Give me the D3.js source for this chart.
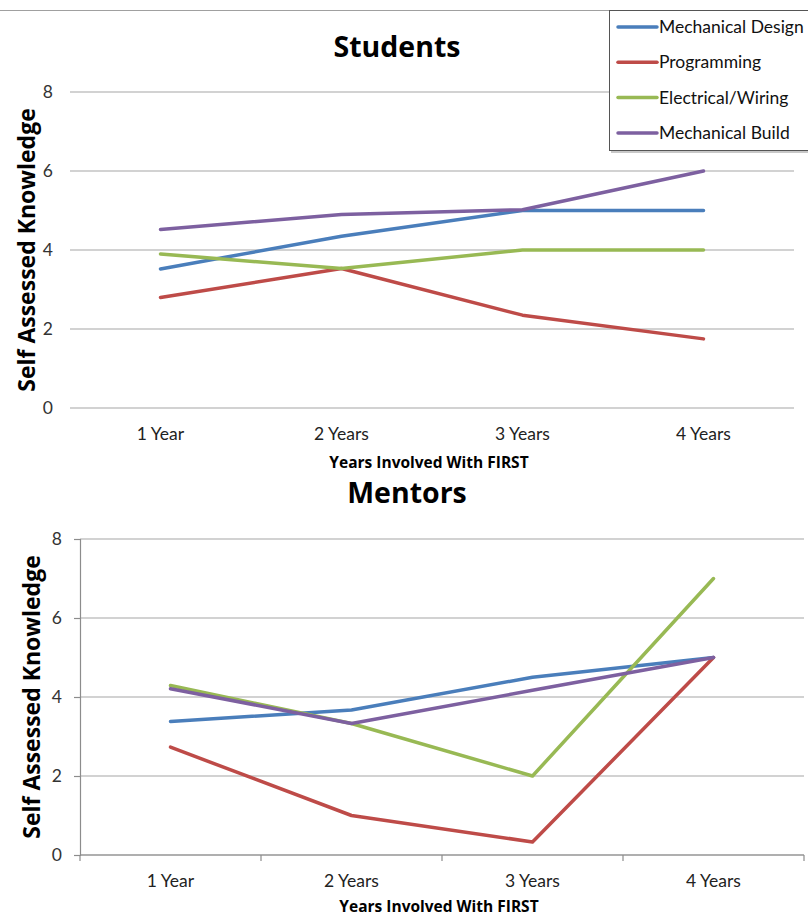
<!DOCTYPE html>
<html>
<head>
<meta charset="utf-8">
<script src="https://cdn.jsdelivr.net/npm/d3@7"></script>
<style>
  html, body { margin: 0; padding: 0; background: #fff; }
  svg { display: block; }
  text { font-family: Lato, "Open Sans", sans-serif; fill: #000; }
  text.bold { font-family: "Open Sans", Lato, sans-serif; font-weight: bold; }
</style>
</head>
<body>
<svg id="chart" width="808" height="918"></svg>
<script>
// ---- data ----
const categories = ["1 Year", "2 Years", "3 Years", "4 Years"];
const seriesNames = ["Mechanical Design", "Programming", "Electrical/Wiring", "Mechanical Build"];
const seriesColors = ["#4A7EBB", "#BE4B48", "#98B954", "#7D60A0"];
const yTicks = [0, 2, 4, 6, 8];

const studentsMechDesign = [3.52, 4.35, 5.0, 5.0];
const studentsProgramming = [2.8, 3.53, 2.35, 1.75];
const studentsElectrical = [3.9, 3.53, 4.0, 4.0];
const studentsMechBuild = [4.52, 4.9, 5.02, 6.0];

const mentorsMechDesign = [3.38, 3.67, 4.5, 5.0];
const mentorsProgramming = [2.73, 1.0, 0.33, 5.0];
const mentorsElectrical = [4.29, 3.33, 2.0, 7.0];
const mentorsMechBuild = [4.21, 3.33, 4.17, 5.0];

const studentsSeries = [studentsMechDesign, studentsProgramming, studentsElectrical, studentsMechBuild];
const mentorsSeries = [mentorsMechDesign, mentorsProgramming, mentorsElectrical, mentorsMechBuild];

const svg = d3.select("#chart");

function drawPanel(cfg) {
  const g = svg.append("g");
  const x = d3.scaleBand().domain(categories).range([cfg.left, cfg.right]);
  const y = d3.scaleLinear().domain([0, 8]).range([cfg.bottom, cfg.top]);

  // gridlines
  g.selectAll("line.grid").data(yTicks).enter().append("line")
    .attr("x1", cfg.left).attr("x2", cfg.right)
    .attr("y1", d => y(d)).attr("y2", d => y(d))
    .attr("stroke", "#a6a6a6").attr("stroke-width", 1.2);

  if (cfg.axes) {
    const ya = d3.axisLeft(y).tickValues(yTicks).tickSize(6).tickFormat("");
    const yg = g.append("g").attr("transform", `translate(${cfg.left},0)`).call(ya);
    yg.select(".domain").attr("stroke", "#8c8c8c").attr("stroke-width", 1.2);
    yg.selectAll(".tick line").attr("stroke", "#8c8c8c").attr("stroke-width", 1.2);
    const bounds = categories.map(c => x(c)).concat([cfg.right]);
    g.append("line").attr("x1", cfg.left).attr("x2", cfg.right)
      .attr("y1", y(0)).attr("y2", y(0)).attr("stroke", "#8c8c8c").attr("stroke-width", 1.2);
    g.selectAll("line.xt").data(bounds).enter().append("line")
      .attr("x1", d => d).attr("x2", d => d)
      .attr("y1", y(0)).attr("y2", y(0) + 6)
      .attr("stroke", "#8c8c8c").attr("stroke-width", 1.2);
  }

  // y tick labels
  g.selectAll("text.yl").data(yTicks).enter().append("text")
    .attr("x", cfg.ylabX).attr("y", d => y(d) + 6)
    .attr("text-anchor", "end").attr("font-size", 17.5).style("fill", "#333")
    .text(d => d);

  // x tick labels
  g.selectAll("text.xl").data(categories).enter().append("text")
    .attr("x", d => x(d) + x.bandwidth() / 2).attr("y", cfg.bottom + 32)
    .attr("text-anchor", "middle").attr("font-size", 17.5).style("fill", "#222")
    .text(d => d);

  // x axis title
  g.append("text").attr("class", "bold")
    .attr("x", (cfg.left + cfg.right) / 2 - 3).attr("y", cfg.bottom + cfg.xtitleDy)
    .attr("text-anchor", "middle").attr("font-size", 15.5)
    .text("Years Involved With FIRST");

  // y axis title
  g.append("text").attr("class", "bold")
    .attr("transform", `translate(${cfg.ytitleX},${(cfg.top + cfg.bottom) / 2}) rotate(-90)`)
    .attr("text-anchor", "middle").attr("font-size", 23)
    .text("Self Assessed Knowledge");

  // chart title
  g.append("text").attr("class", "bold").attr("x", cfg.titleX).attr("y", cfg.titleY)
    .attr("text-anchor", "middle").attr("font-size", 28.5)
    .text(cfg.title);

  // lines
  const line = d3.line()
    .x((d, i) => x(categories[i]) + x.bandwidth() / 2)
    .y(d => y(d));
  g.selectAll("path.series").data(cfg.series).enter().append("path")
    .attr("d", d => line(d))
    .attr("fill", "none")
    .attr("stroke", (d, i) => seriesColors[i])
    .attr("stroke-width", 3.5)
    .attr("stroke-linejoin", "round")
    .attr("stroke-linecap", "round");
}

// top border line
svg.append("line").attr("x1", 0).attr("x2", 609).attr("y1", 10.5).attr("y2", 10.5)
  .attr("stroke", "#a0a0a0").attr("stroke-width", 1.2);

drawPanel({
  left: 70, right: 794, top: 92, bottom: 408,
  axes: false, ylabX: 53, ytitleX: 35, series: studentsSeries, xtitleDy: 60,
  title: "Students", titleX: 397, titleY: 57
});

drawPanel({
  left: 80, right: 804, top: 539, bottom: 855,
  axes: true, ylabX: 62, ytitleX: 40, series: mentorsSeries, xtitleDy: 57,
  title: "Mentors", titleX: 407, titleY: 503
});

// legend
const lg = svg.append("g");
lg.append("rect").attr("x", 611).attr("y", 12).attr("width", 205).attr("height", 141)
  .attr("fill", "#c8c8c8");
lg.append("rect").attr("x", 609.5).attr("y", 10.5).attr("width", 205).attr("height", 140)
  .attr("fill", "#fff").attr("stroke", "#555").attr("stroke-width", 1);
const items = lg.selectAll("g.item").data(seriesNames).enter().append("g")
  .attr("transform", (d, i) => `translate(0,${27 + i * 35.3})`);
items.append("line").attr("x1", 618).attr("x2", 657).attr("y1", 0).attr("y2", 0)
  .attr("stroke", (d, i) => seriesColors[i]).attr("stroke-width", 3.5).attr("stroke-linecap", "round");
items.append("text").attr("x", 659).attr("y", 6).attr("font-size", 17.5).style("fill", "#111")
  .text(d => d);
</script>
</body>
</html>
